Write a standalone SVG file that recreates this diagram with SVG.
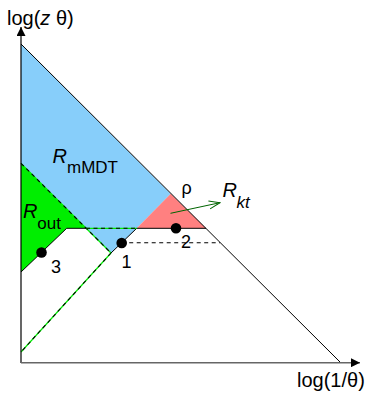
<svg xmlns="http://www.w3.org/2000/svg" width="368" height="393" viewBox="0 0 368 393">
<style>
text{font-family:"Liberation Sans",Arial,sans-serif;fill:#000}
.it{font-style:italic}
.ln{stroke:#000;stroke-width:1;fill:none}
.gr{stroke:#00ee00;stroke-width:1.2;fill:none}
.dash{stroke:#000;stroke-width:1.1;fill:none;stroke-dasharray:4 3.5}
.dot{fill:#000}
</style>
<defs>
<marker id="ah" viewBox="0 0 10 10" refX="10" refY="5" markerWidth="10" markerHeight="9" markerUnits="userSpaceOnUse" orient="auto">
<path d="M0,0 L10,5 L0,10 z" fill="#000"/>
</marker>
<marker id="oh" viewBox="0 0 12 10" refX="11" refY="5" markerWidth="12" markerHeight="10" markerUnits="userSpaceOnUse" orient="auto">
<path d="M0,1 L11,5 L0,9" fill="none" stroke="#006400" stroke-width="1"/>
</marker>
</defs>
<rect width="368" height="393" fill="#fff"/>
<g id="regions">
<polygon id="mMDT" points="21,44 170.7,193.7 136.7,228.3 111,253 86,228.3 21,163.3" fill="#87cefa"/>
<polygon id="out" points="21,163.3 86,228.3 66.7,228.3 21,272" fill="#00ee00"/>
<polygon id="kt" points="170.7,193.7 206,228.3 136.7,228.3" fill="#ff8080"/>
</g>
<g id="connectors">
<line class="ln" x1="21" y1="44" x2="341" y2="363"/>
<line class="gr" x1="21" y1="163.3" x2="111" y2="253"/>
<line class="dash" x1="21" y1="163.3" x2="111" y2="253"/>
<line class="gr" x1="111" y1="253" x2="21" y2="352"/>
<line class="dash" x1="111" y1="253" x2="21" y2="352"/>
<line class="ln" x1="111" y1="253" x2="136.7" y2="228.3"/>
<line class="ln" x1="21" y1="272" x2="66.7" y2="228.3"/>
<line class="ln" x1="66.7" y1="228.3" x2="86" y2="228.3"/>
<line class="gr" x1="86" y1="228.3" x2="136.7" y2="228.3"/>
<line class="dash" x1="86" y1="228.3" x2="136.7" y2="228.3"/>
<line class="ln" x1="136.7" y1="228.3" x2="206" y2="228.3"/>
<line class="dash" x1="121.7" y1="242.7" x2="220" y2="242.7"/>
<line x1="170.5" y1="213.3" x2="220" y2="202.7" stroke="#006400" stroke-width="1" marker-end="url(#oh)"/>
<line x1="21" y1="363" x2="21" y2="27" stroke="#000" stroke-width="1.2" marker-end="url(#ah)"/>
<line x1="21" y1="362.7" x2="360" y2="362.7" stroke="#666" stroke-width="1.5" marker-end="url(#ah)"/>
</g>
<g id="points">
<circle id="p1" class="dot" cx="121.7" cy="243" r="5.3"/>
<circle id="p2" class="dot" cx="176" cy="228.3" r="5.3"/>
<circle id="p3" class="dot" cx="41.5" cy="252.5" r="5.3"/>
</g>
<g id="labels">
<text x="7" y="25" font-size="20">log(<tspan class="it">z</tspan> θ)</text>
<text x="297" y="387" font-size="20">log(1/θ)</text>
<text x="52.5" y="163.3" font-size="20" class="it">R</text>
<text x="67" y="173.3" font-size="17">mMDT</text>
<text x="23" y="218.3" font-size="20" class="it">R</text>
<text x="37.3" y="229.3" font-size="17">out</text>
<text x="222.5" y="196.7" font-size="20" class="it">R</text>
<text x="236.5" y="208.3" font-size="17" class="it">kt</text>
<text x="181.5" y="194" font-size="18">ρ</text>
<text x="121.5" y="268" font-size="18">1</text>
<text x="181" y="247.5" font-size="18">2</text>
<text x="51" y="272.5" font-size="18">3</text>
</g>
</svg>
